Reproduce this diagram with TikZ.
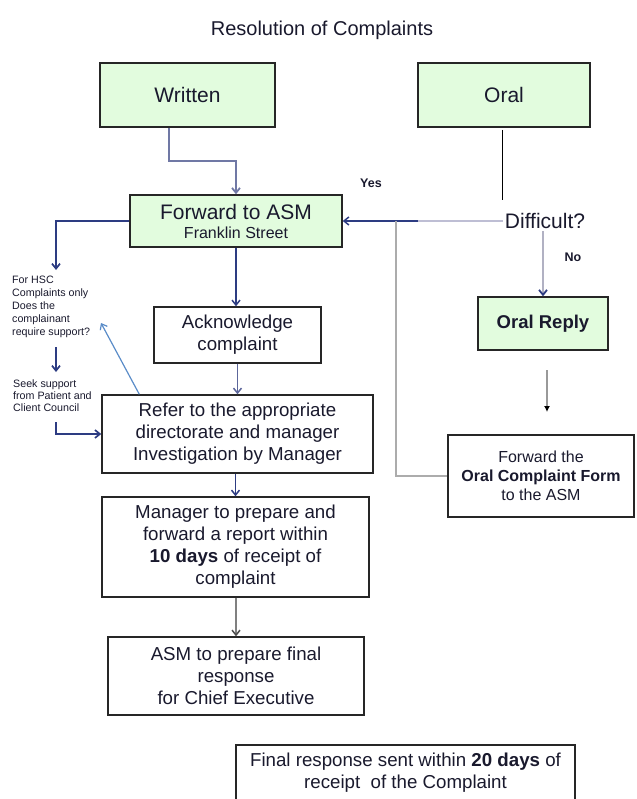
\documentclass[tikz,border=0pt]{standalone}
\usepackage{fontspec}
\setmainfont{Liberation Sans}
\usetikzlibrary{arrows.meta}
\definecolor{boxgreen}{RGB}{226,252,222}
\definecolor{navy}{RGB}{45,60,130}
\definecolor{slate}{RGB}{112,120,165}
\definecolor{lilac}{RGB}{190,190,212}
\definecolor{steel}{RGB}{90,140,200}
\definecolor{ink}{RGB}{25,25,45}

\begin{document}
\begin{tikzpicture}[x=1pt,y=-1pt,every node/.style={text=ink,align=center,inner sep=2pt},
    box/.style={draw=black!85,line width=1.4pt},
    greenbox/.style={box,fill=boxgreen},
    body/.style={font=\fontsize{18.7}{22}\selectfont},
    small/.style={font=\fontsize{10.7}{13}\selectfont,align=left,inner sep=0pt},
    ans/.style={font=\bfseries\fontsize{12.5}{14}\selectfont},
    arr/.style={line width=1.5pt,-{Straight Barb[length=5pt,width=8pt]}}]
    \path[use as bounding box] (0,0) rectangle (636,799);

    \node (title) at (322,30) {\fontsize{20}{24}\selectfont Resolution of Complaints};
    \node[greenbox,minimum width=175,minimum height=64,font=\fontsize{21}{24}\selectfont] (written) at (187.5,95) {Written};
    \node[greenbox,minimum width=172,minimum height=64,font=\fontsize{21}{24}\selectfont] (oral) at (504,95) {Oral};
    \node[greenbox,minimum width=212,minimum height=52,font=\fontsize{16}{19}\selectfont] (fwd) at (236,221) {{\fontsize{21}{21}\selectfont Forward to ASM}\\Franklin Street};
    \node[font=\fontsize{21}{24}\selectfont] (difficult) at (545,221) {Difficult?};
    \node[ans] (yes) at (371,183) {Yes};
    \node[ans] (no) at (573,257) {No};
    \node[greenbox,minimum width=130,minimum height=53,font=\bfseries\fontsize{18.5}{22}\selectfont] (oralreply) at (543,323.5) {Oral Reply};
    \node[box,minimum width=186,minimum height=82,font=\fontsize{16}{19}\selectfont] (fwdform) at (541,476) {Forward the\\\textbf{Oral Complaint Form}\\to the ASM};
    \node[box,body,minimum width=167,minimum height=56] (ack) at (237.5,335) {Acknowledge\\complaint};
    \node[box,body,minimum width=271,minimum height=78] (refer) at (237.5,434) {Refer to the appropriate\\directorate and manager\\Investigation by Manager};
    \node[box,body,minimum width=267,minimum height=100] (report) at (235.5,547) {Manager to prepare and\\forward a report within\\\textbf{10 days} of receipt of\\complaint};
    \node[box,body,minimum width=256,minimum height=78] (asmfinal) at (236,676) {ASM to prepare final\\response\\for Chief Executive};
    \node[box,body,minimum width=339,minimum height=55] (final) at (405.5,772.5) {Final response sent within \textbf{20 days} of\\receipt\ \ of the Complaint};
    \node[small,anchor=west] (hsc) at (12,307) {For HSC\\Complaints only\\Does the\\complainant\\require support?};
    \node[small,anchor=west,font=\fontsize{10.7}{12}\selectfont] (seek) at (13,396) {Seek support\\from Patient and\\Client Council};

    \coordinate (hscin) at (56,270);
    \coordinate (hscout) at (56,347);
    \coordinate (seekin) at (56,372);
    \coordinate (seekout) at (56,422);
    \coordinate (tip) at (101,323);
    \coordinate (oraltop) at (502,130);
    \coordinate (oralend) at (502,200);
    \coordinate (yjoin) at (418,221);
    \coordinate (tee) at (396,221);
    \coordinate (oralout) at (547,370);
    \coordinate (formin) at (547,412);

    % written side
    \draw[arr,slate,line width=1.8pt] ([xshift=-18.5pt]written.south) -- ++(0,33) -| (fwd.north);
    \draw[arr,navy] (fwd.south) -- (fwd.south |- ack.north);
    \draw[arr,slate!70!navy] (ack.south) -- (ack.south |- refer.north);
    \draw[arr,navy] (refer.south -| report.north) -- (report.north);
    \draw[arr,gray,-{Straight Barb[length=5pt,width=8pt,color=black!70]}] (report.south -| asmfinal.north) -- (asmfinal.north);

    % support loop
    \draw[arr,navy,line width=1.7pt] (fwd.west) -| (hscin);
    \draw[arr,navy,line width=1.7pt] (hscout) -- (seekin);
    \draw[arr,navy,line width=1.7pt] (seekout) |- (refer.west);
    \draw[arr,steel,line width=1.2pt] ([xshift=38pt]refer.north west) -- (tip);

    % oral side
    \draw[black,line width=0.9pt] (oraltop) -- (oralend);
    \draw[lilac,line width=1.8pt] (difficult.west) -- (yjoin);
    \draw[arr,navy] (yjoin) -- (fwd.east);
    \draw[gray!65,line width=2.4pt] (tee) |- (fwdform.west);
    \draw[arr,lilac!80!gray,line width=1.8pt,-{Straight Barb[length=5pt,width=8pt,color=navy]}] (difficult.south -| oralreply.north) -- (oralreply.north);
    \draw[gray!80,line width=1.5pt,-{Latex[length=6pt,width=6pt,color=black]}] (oralout) -- (formin);
\end{tikzpicture}
\end{document}
